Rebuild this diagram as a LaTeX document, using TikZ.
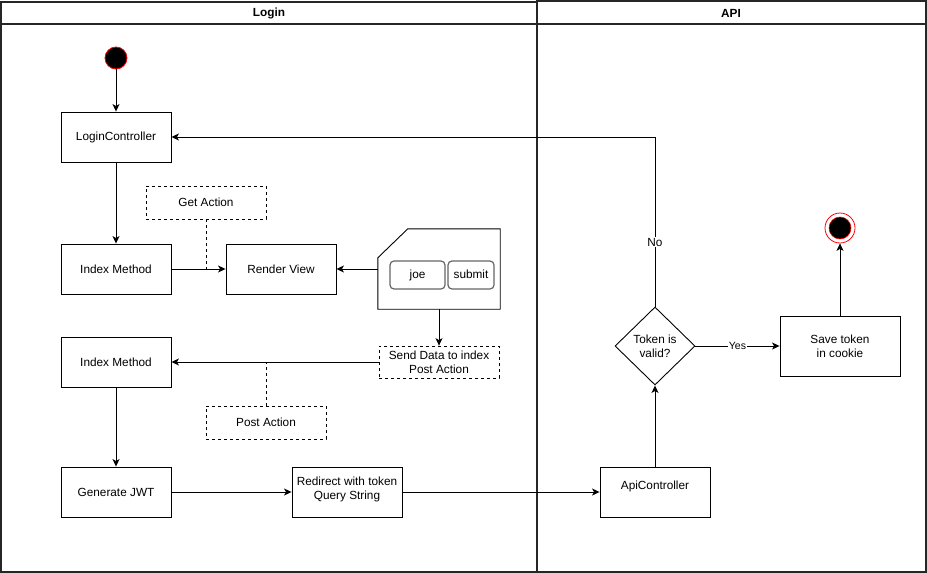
\documentclass[tikz,border=0pt]{standalone}
\usepackage{fontspec}
\setmainfont{Liberation Sans}
\usetikzlibrary{arrows.meta,shapes.geometric,calc}
\begin{document}
\begin{tikzpicture}[x=1pt,y=-1pt,
  every node/.style={font=\fontsize{11.8}{14}\selectfont},
  box/.style={draw, line width=0.9pt, minimum width=110pt, minimum height=50pt, inner sep=0pt, align=center},
  note/.style={draw, line width=0.8pt, dash pattern=on 3pt off 3pt, minimum width=120pt, minimum height=33pt, inner sep=0pt, align=center},
  arr/.style={line width=0.9pt, -{Stealth[length=7.5pt,width=7pt,inset=2pt]}},
  dline/.style={line width=0.8pt, dash pattern=on 3pt off 3pt},
  pool/.style={draw=black!85, line width=1.8pt},
  lbl/.style={fill=white, inner sep=1pt},
  field/.style={draw=black!60, line width=1.2pt, rounded corners=4pt, minimum height=28pt, inner sep=0pt, text height=8.5pt, text depth=2.5pt},
  hdr/.style={font=\fontsize{11.8}{14}\selectfont\bfseries},
]
\useasboundingbox (0,0) rectangle (927,573);

% pools
\draw[pool] (1,2) rectangle (537,572);
\draw[pool] (1,24) -- (537,24);
\node[hdr] (loginh) at (269,13) {Login};
\draw[pool] (537,1) rectangle (926,572);
\draw[pool] (537,24) -- (926,24);
\node[hdr] (apih) at (731,13) {API};

% start / end
\node[circle, fill=black, draw=red, line width=0.8pt, minimum size=22pt, inner sep=0pt] (start) at (116,58) {};
\node[circle, draw=red, line width=0.8pt, minimum size=30pt, inner sep=0pt] (end) at (840,228) {};
\draw[red, fill=black, line width=0.6pt] (end.center) circle (11pt);

% nodes
\node[box] (lc) at (116,137) {LoginController};
\node[box] (im1) at (116,269) {Index Method};
\node[note] (get) at (206,202.5) {Get Action};
\node[box] (rv) at (281,269) {Render View};

\node[minimum width=122pt, minimum height=80pt, inner sep=0pt] (card) at (439,269) {};
\draw[line width=0.9pt] (card.south west) -- ($(card.north west)+(0,29)$) -- ($(card.north west)+(30,0)$) -- (card.north east) -- (card.south east) -- cycle;
\node[field, minimum width=55pt] (joe) at (417.5,275) {joe};
\node[field, minimum width=46pt] (submit) at (471,275) {submit};

\node[note, minimum height=32pt] (send) at (439,362) {Send Data to index\\Post Action};
\node[box] (im2) at (116,362) {Index Method};
\node[note] (post) at (266,422.5) {Post Action};
\node[box] (jwt) at (116,492) {Generate JWT};
\node[box, label={[align=center,yshift=3pt]center:Redirect with token\\Query String}] (redir) at (347,492) {};
\node[box, label={[yshift=6pt]center:ApiController}] (api) at (655,492) {};
\node[diamond, draw, line width=0.9pt, minimum width=80pt, minimum height=78pt, inner sep=0pt, align=center] (dia) at (655,346) {Token is\\valid?};
\node[box, minimum width=120pt, minimum height=60pt] (save) at (840,346) {Save token\\in cookie};

% connectors
\draw[arr] (start) -- (lc);
\draw[arr] (lc) -- (im1);
\draw[arr] (im1) -- (rv);
\draw[dline] (get.south) -- (get.south |- im1.east);
\draw[arr] (card.west) -- (rv.east);
\draw[arr] (card.south) -- (send.north);
\draw[arr] (send.west) -- (im2.east);
\draw[dline] (post.north) -- (post.north |- im2.east);
\draw[arr] (im2) -- (jwt);
\draw[arr] (jwt) -- (redir);
\draw[arr] (redir) -- (api);
\draw[arr] (api) -- (dia);
\draw[arr] (dia.north) |- node[lbl, pos=0.19] {No} (lc.east);
\draw[arr] (dia) -- node[lbl, font=\fontsize{10.5}{12}\selectfont] {Yes} (save);
\draw[arr] (save) -- (end);
\end{tikzpicture}
\end{document}
